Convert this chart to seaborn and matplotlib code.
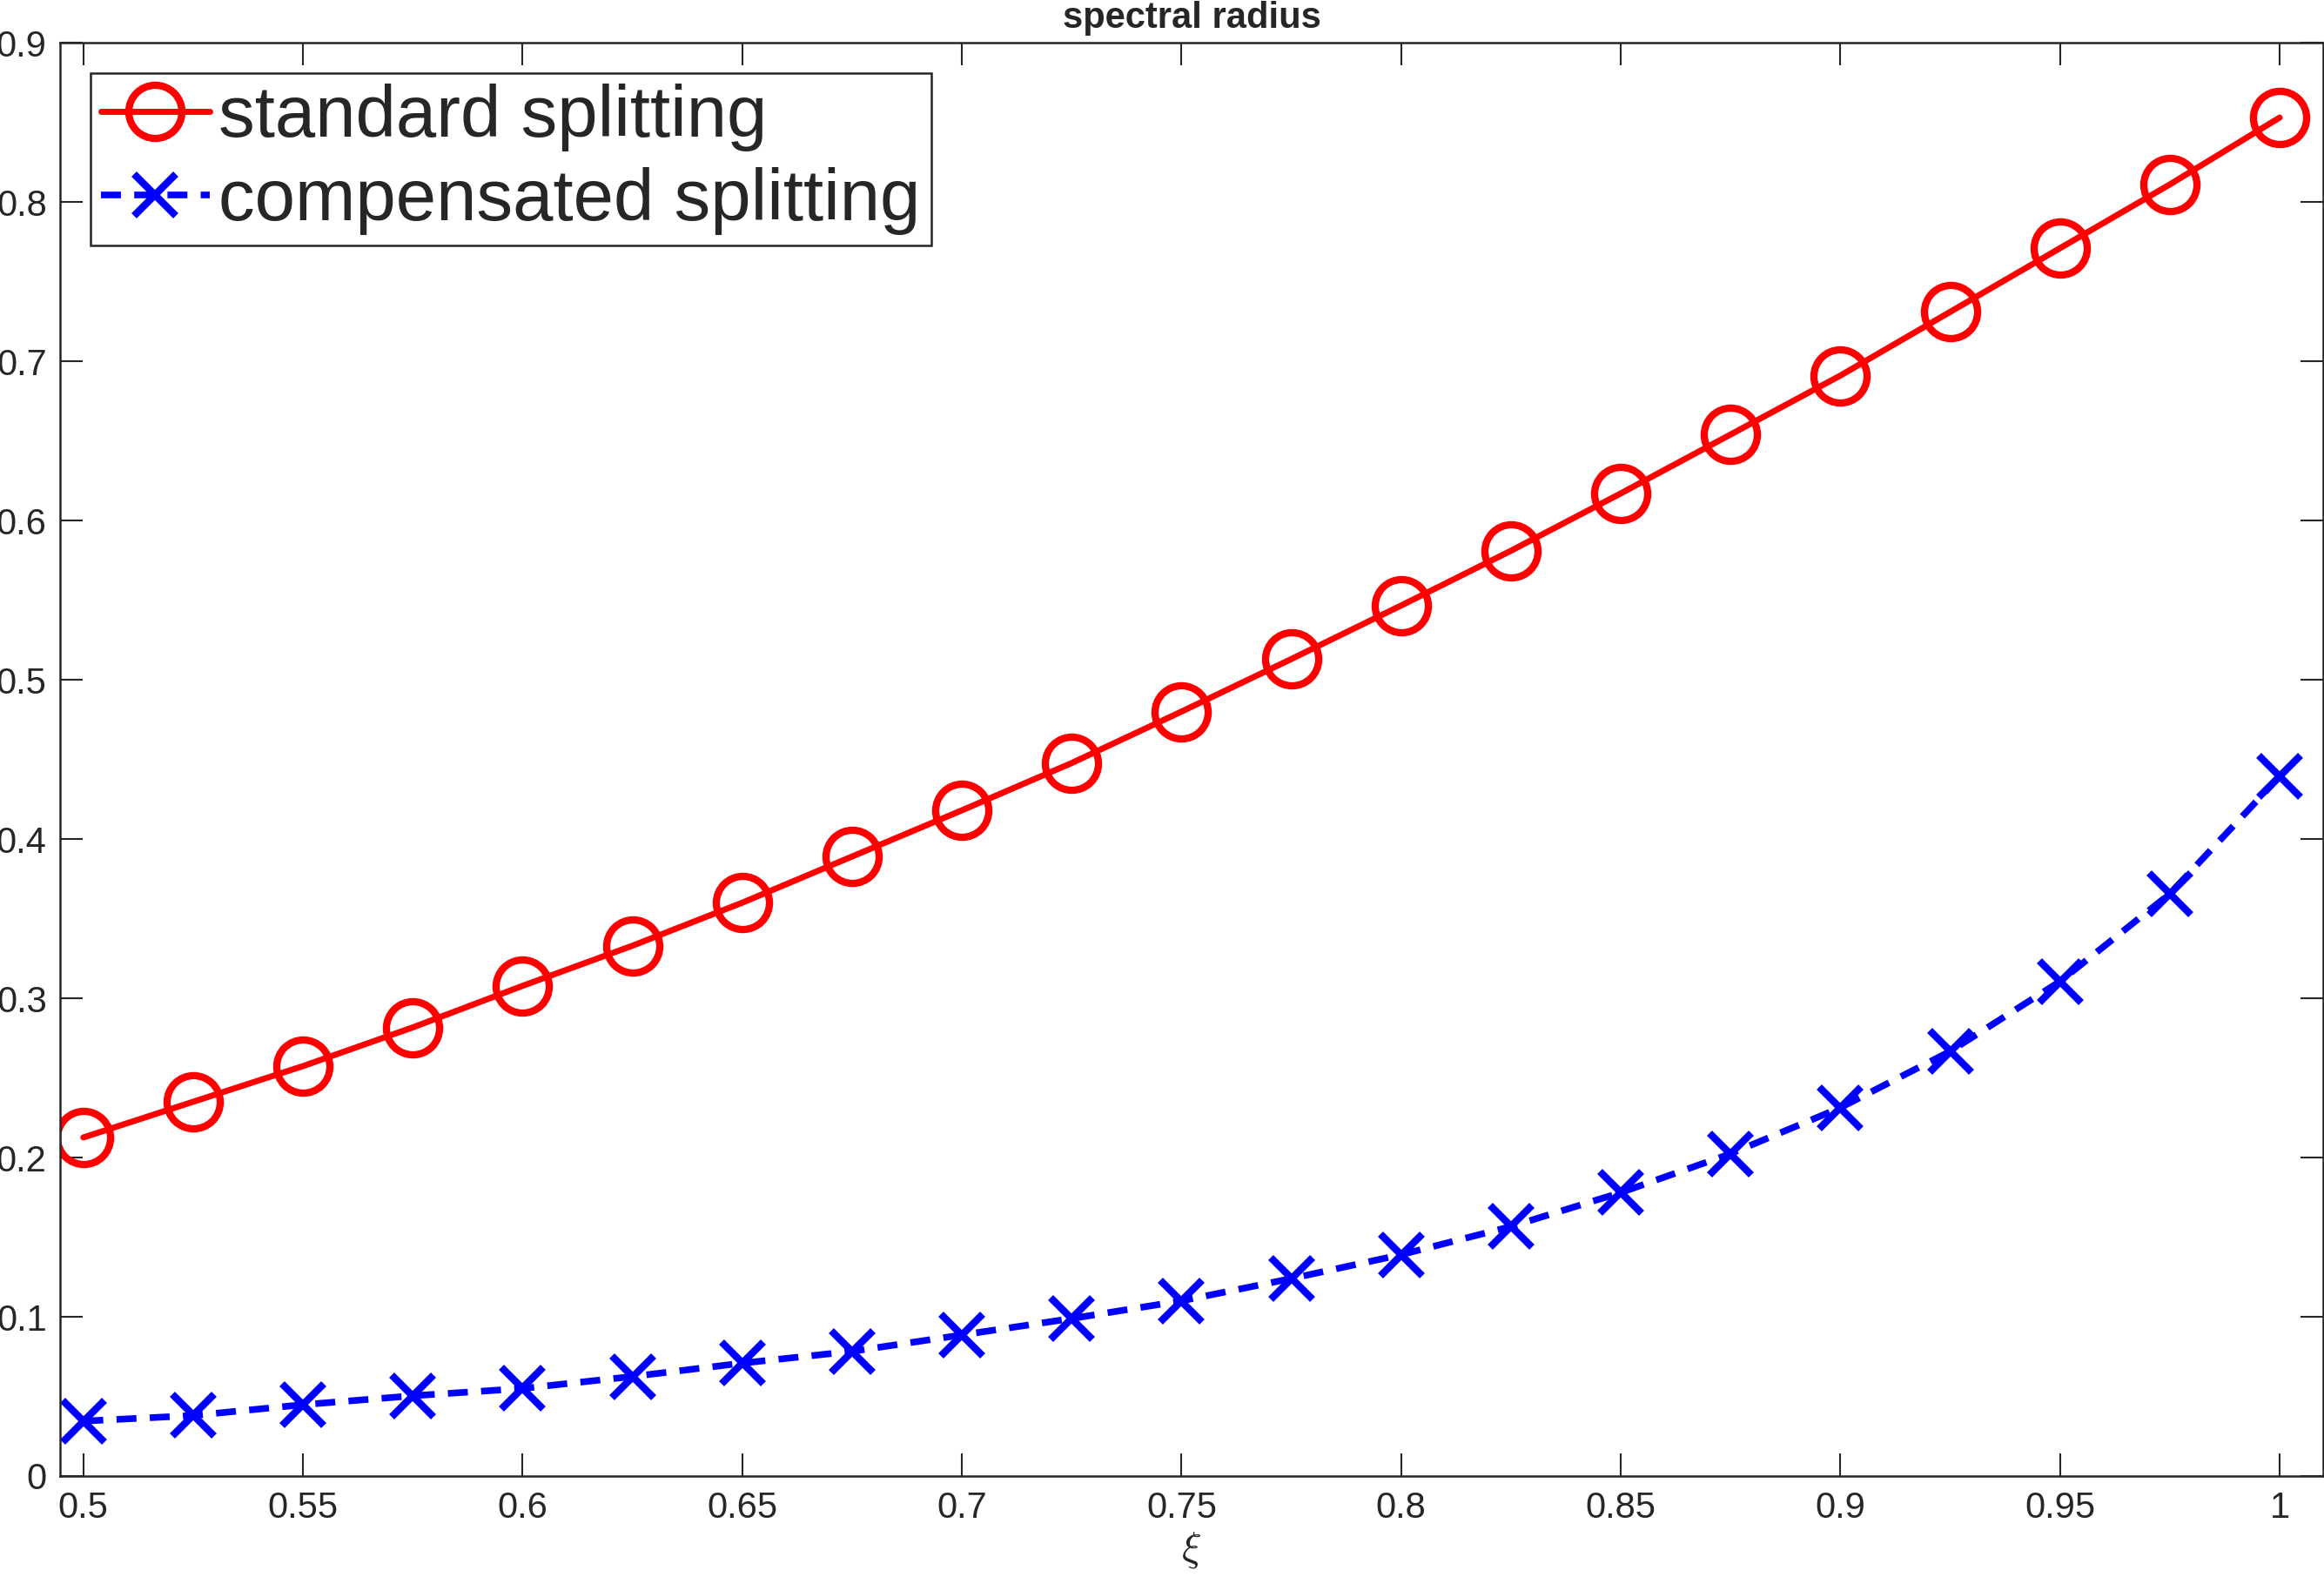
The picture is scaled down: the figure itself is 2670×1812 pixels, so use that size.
# spectral radius: standard vs compensated splitting
import numpy as np
import pandas as pd
import matplotlib
matplotlib.use("Agg")
import matplotlib.pyplot as plt
import seaborn as sns

# xi grid and values
xi = [0.5, 0.525, 0.55, 0.575, 0.6, 0.625, 0.65, 0.675, 0.7, 0.725, 0.75,
      0.775, 0.8, 0.825, 0.85, 0.875, 0.9, 0.925, 0.95, 0.975, 1.0]
rho_standard = [0.2126, 0.235, 0.2574, 0.2817, 0.3078, 0.333, 0.360, 0.389,
                0.418, 0.4477, 0.480, 0.513, 0.5466, 0.581, 0.617, 0.654,
                0.691, 0.731, 0.771, 0.811, 0.853]
rho_compensated = [0.0345, 0.038, 0.0448, 0.0504, 0.055, 0.0625, 0.0709,
                   0.0783, 0.0886, 0.0989, 0.110, 0.124, 0.139, 0.1567,
                   0.178, 0.2024, 0.2313, 0.2667, 0.3106, 0.3656, 0.4393]
xticks = [0.5, 0.55, 0.6, 0.65, 0.7, 0.75, 0.8, 0.85, 0.9, 0.95, 1.0]
xticklabels = ["0.5", "0.55", "0.6", "0.65", "0.7", "0.75", "0.8", "0.85",
               "0.9", "0.95", "1"]
yticks = [0, 0.1, 0.2, 0.3, 0.4, 0.5, 0.6, 0.7, 0.8, 0.9]
yticklabels = ["0", "0.1", "0.2", "0.3", "0.4", "0.5", "0.6", "0.7", "0.8", "0.9"]

df = pd.DataFrame({"xi": xi, "std": rho_standard, "comp": rho_compensated})

sns.set_theme(style="white")
plt.rcParams["font.family"] = ["Liberation Sans", "DejaVu Sans"]

axcol = "#262626"
fig = plt.figure(figsize=(26.7, 18.12), dpi=100)
ax = fig.add_axes([0.02584, 0.06402, 0.9738, 0.9089])

sns.lineplot(data=df, x="xi", y="std", ax=ax, color="#ff0000", lw=5,
             marker="o", markersize=44, markerfacecolor="none",
             markeredgecolor="#ff0000", markeredgewidth=6,
             label="standard splitting")
sns.lineplot(data=df, x="xi", y="comp", ax=ax, color="#0000ff", lw=5.5,
             linestyle=(0, (3, 2)), marker="x", markersize=35,
             markeredgecolor="#0000ff", markeredgewidth=6,
             label="compensated splitting")

ax.set_xlim(0.4947, 1.0099)
ax.set_ylim(0, 0.9)
ax.set_xticks(xticks)
ax.set_xticklabels(xticklabels)
ax.set_yticks(yticks)
ax.set_yticklabels(yticklabels)

ax.tick_params(axis="both", which="both", direction="in", length=19,
               width=1.5, color=axcol, labelcolor=axcol, labelsize=30,
               top=True, right=True, bottom=True, left=True)
ax.tick_params(axis="y", pad=11)
ax.tick_params(axis="x", pad=12)
for s in ax.spines.values():
    s.set_color(axcol)
    s.set_linewidth(1.8)

ax.set_xlabel(r"$\xi$", fontsize=34, color=axcol, labelpad=4,
              math_fontfamily="cm")
ax.set_ylabel("")
ax.set_title("spectral radius", fontsize=30, fontweight="bold",
             color=axcol, pad=12)

leg = ax.legend(loc="upper left", fontsize=60, handlelength=1.5,
                handletextpad=0.13, borderpad=0.14, labelspacing=0.22,
                borderaxespad=0.42, fancybox=False, framealpha=1,
                edgecolor=axcol)
leg.get_frame().set_linewidth(1.8)
for t in leg.get_texts():
    t.set_color(axcol)

fig.savefig("out.png", dpi=100)
